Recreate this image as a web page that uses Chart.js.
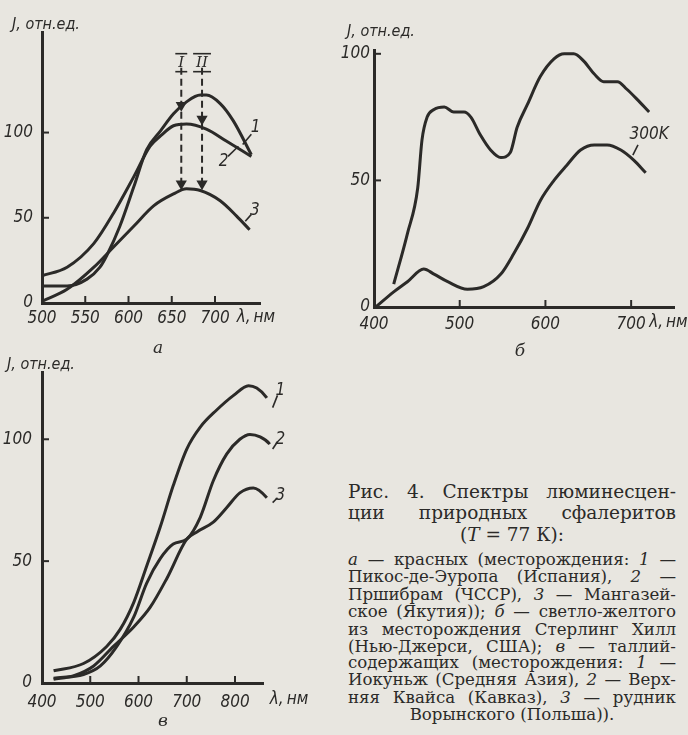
<!DOCTYPE html>
<html lang="ru">
<head>
<meta charset="UTF-8">
<title>Спектры люминесценции природных сфалеритов</title>
<script src="https://cdn.jsdelivr.net/npm/chart.js"></script>
<style>
    body { margin: 0; width: 688px; height: 735px; overflow: hidden; position: relative; background: #e8e6e0; }
    canvas { position: absolute; }
    .letter { position: absolute; font: italic 17px 'DejaVu Serif', serif; color: #2d2c2a; transform: translate(-50%, -50%); }
    .cap { position: absolute; left: 348px; width: 328px; font-family: 'DejaVu Serif', serif; color: #2b2a28; white-space: nowrap; }
    .t { font-size: 18.5px; line-height: 20px; }
    .b { font-size: 16.6px; line-height: 18px; }
    .j { display: flex; justify-content: space-between; }
    .c { text-align: center; }
</style>
</head>
<body>
<canvas id="chartA" width="335" height="345" style="left:0;top:0"></canvas>
<canvas id="chartB" width="353" height="345" style="left:335px;top:0"></canvas>
<canvas id="chartC" width="335" height="390" style="left:0;top:345px"></canvas>

<div class="letter" style="left:158px;top:347px">а</div>
<div class="letter" style="left:520px;top:350px">б</div>
<div class="letter" style="left:163px;top:720px">в</div>

<div class="cap t j" style="top:482px">Рис. 4. Спектры люминесцен-</div>
<div class="cap t j" style="top:503px">ции природных сфалеритов</div>
<div class="cap t c" style="top:525px">(<i>T</i> = 77 К):</div>
<div class="cap b j" style="top:551px"><i>а</i> — красных (месторождения: <i>1</i> —</div>
<div class="cap b j" style="top:568px">Пикос-де-Эуропа (Испания), <i>2</i> —</div>
<div class="cap b j" style="top:586px">Пршибрам (ЧССР), <i>3</i> — Мангазей-</div>
<div class="cap b j" style="top:603px">ское (Якутия)); <i>б</i> — светло-желтого</div>
<div class="cap b j" style="top:621px">из месторождения Стерлинг Хилл</div>
<div class="cap b j" style="top:638px">(Нью-Джерси, США); <i>в</i> — таллий-</div>
<div class="cap b j" style="top:654px">содержащих (месторождения: <i>1</i> —</div>
<div class="cap b j" style="top:671px">Иокуньж (Средняя Азия), <i>2</i> — Верх-</div>
<div class="cap b j" style="top:689px">няя Квайса (Кавказ), <i>3</i> — рудник</div>
<div class="cap b c" style="top:706px">Ворынского (Польша)).</div>

<script>
    // а — красные сфалериты (1, 2, 3)
    const a1X = [500, 529, 552, 567, 575, 590, 606, 621, 637, 652, 667, 683, 690, 706, 721, 742];
    const a1Y = [10, 10, 14, 21, 28, 45, 68, 90, 101, 111, 118, 122, 122, 117, 107, 87];
    const a2X = [500, 529, 560, 583, 606, 625, 637, 652, 667, 690, 713, 742];
    const a2Y = [16, 21, 35, 53, 74, 92, 98, 104, 105, 102, 95, 86];
    const a3X = [500, 529, 560, 583, 606, 629, 652, 667, 683, 706, 725, 740];
    const a3Y = [1, 8, 21, 33, 45, 57, 64, 67, 66, 60, 51, 43];
    // стрелки I и II: положение и уровни (начало, наконечники)
    const arrowX = [661, 685];
    const arrowI = [138, 116, 70];
    const arrowII = [138, 108, 70];

    // б — светло-желтый сфалерит, 77 К и 300 К
    const b77X = [423, 439, 451, 456, 462, 470, 482, 493, 505, 513, 524, 536, 548, 559, 567, 579, 594, 610, 622, 633, 645, 657, 668, 684, 695, 707, 721];
    const b77Y = [9, 29, 47, 66, 75, 78, 79, 77, 77, 75, 68, 62, 59, 61, 71, 80, 91, 98, 100, 100, 97, 92, 89, 89, 86, 82, 77];
    const b300X = [402, 423, 439, 458, 470, 486, 509, 528, 548, 563, 579, 594, 610, 625, 641, 657, 672, 688, 703, 717];
    const b300Y = [0, 6, 10, 15, 13, 10, 7, 8, 13, 21, 31, 42, 50, 56, 62, 64, 64, 62, 58, 53];

    // в — таллийсодержащие сфалериты (1, 2, 3)
    const c1X = [424, 486, 534, 562, 590, 617, 645, 672, 700, 728, 762, 797, 828, 845, 866, 886];
    const c1Y = [5, 8, 15, 22, 33, 48, 64, 81, 96, 105, 112, 118, 122, 121, 117, 110];
    const c2X = [424, 486, 521, 555, 590, 617, 645, 672, 700, 728, 755, 783, 810, 831, 852, 872, 886];
    const c2Y = [2, 3.5, 7, 15, 27, 41, 51, 57, 59, 68, 83, 94, 100, 102, 101, 98, 93];
    const c3X = [424, 466, 507, 548, 590, 624, 659, 700, 721, 755, 783, 810, 838, 866, 886];
    const c3Y = [1.5, 3, 7, 15, 23, 31, 43, 59, 62, 66, 72, 78, 80, 76, 70];

    // деления осей
    const ticksAx = [500, 550, 600, 650, 700];
    const ticksBx = [400, 500, 600, 700];
    const ticksCx = [400, 500, 600, 700, 800];
    const ticksY = [0, 50, 100];

    const ink = '#2b2a28';
    const narrow = "'Liberation Sans Narrow', 'DejaVu Sans Condensed', 'DejaVu Sans', sans-serif";
    const tickFont = { family: narrow, size: 17, style: 'italic' };
    const noteFont = "italic 17px " + narrow;

    // распределение слов по строке подписи
    document.querySelectorAll('.j').forEach(el => {
        el.innerHTML = el.innerHTML.trim().split(/\s+/).map(w => '<span>' + w + '</span>').join('');
    });

    function pts(xs, ys) {
        return xs.map((x, i) => ({ x, y: ys[i] }));
    }

    function curve(xs, ys) {
        return {
            data: pts(xs, ys), borderColor: ink, borderWidth: 3, pointRadius: 0,
            cubicInterpolationMode: 'monotone', clip: false, fill: false
        };
    }

    function arrow(x, levels) {
        return {
            data: levels.map(y => ({ x, y })), borderColor: ink, borderWidth: 2, borderDash: [7, 4],
            tension: 0, pointStyle: 'triangle', pointRotation: 180,
            pointRadius: levels.map((v, i) => i ? 4.5 : 0),
            pointBackgroundColor: ink, pointBorderColor: ink, clip: false
        };
    }

    // внутренние засечки, подписи осей и номера кривых
    const sketch = {
        id: 'sketch',
        afterDraw(chart) {
            const o = chart.options.plugins.sketch;
            const { ctx, chartArea: a, scales: { x, y } } = chart;
            ctx.save();
            ctx.strokeStyle = ink;
            ctx.fillStyle = ink;
            ctx.lineWidth = 2;
            const line = (x1, y1, x2, y2) => { ctx.beginPath(); ctx.moveTo(x1, y1); ctx.lineTo(x2, y2); ctx.stroke(); };
            x.ticks.forEach(t => {
                if (t.value === x.min) return;
                const px = x.getPixelForValue(t.value);
                line(px, a.bottom, px, a.bottom - 7);
            });
            y.ticks.forEach(t => {
                if (t.value === y.min) return;
                const py = y.getPixelForValue(t.value);
                line(a.left, py, a.left + 7, py);
            });
            ctx.font = "italic 16px " + narrow;
            ctx.textBaseline = 'middle';
            ctx.textAlign = 'left';
            ctx.fillText('J, отн.ед.', a.left + o.yTitle[0], a.top + o.yTitle[1]);
            ctx.font = noteFont;
            ctx.fillText('λ,\u2009нм', x.getPixelForValue(o.xTitle), a.bottom + o.xTitleDy);
            ctx.textAlign = 'center';
            (o.notes || []).forEach(n => {
                const px = x.getPixelForValue(n.x), py = y.getPixelForValue(n.y);
                ctx.font = n.font || noteFont;
                ctx.fillText(n.text, px, py);
                if (n.lead) {
                    ctx.lineWidth = 1.6;
                    line(x.getPixelForValue(n.lead[0]), y.getPixelForValue(n.lead[1]),
                         x.getPixelForValue(n.lead[2]), y.getPixelForValue(n.lead[3]));
                }
                if (n.bars) {
                    const w = ctx.measureText(n.text).width / 2 + 3;
                    ctx.lineWidth = 1.6;
                    line(px - w, py - 9, px + w, py - 9);
                    line(px - w, py + 9, px + w, py + 9);
                }
            });
            ctx.restore();
        }
    };

    function plot(id, box, xAxis, yMax, datasets, extra) {
        new Chart(document.getElementById(id), {
            type: 'line',
            data: { datasets },
            options: {
                responsive: false,
                animation: false,
                devicePixelRatio: 1,
                layout: { padding: { top: box.top, right: box.right, left: 0, bottom: 0 } },
                plugins: { legend: { display: false }, tooltip: { enabled: false }, sketch: extra },
                scales: {
                    x: {
                        type: 'linear', min: xAxis.min, max: xAxis.max,
                        afterBuildTicks: s => { s.ticks = xAxis.ticks.map(value => ({ value })); },
                        afterFit: s => { s.height = box.bottom; },
                        grid: { display: false, drawTicks: false },
                        border: { color: ink, width: 3 },
                        ticks: { color: ink, font: tickFont, padding: box.xPad, maxRotation: 0, autoSkip: false }
                    },
                    y: {
                        min: 0, max: yMax,
                        afterBuildTicks: s => { s.ticks = ticksY.map(value => ({ value })); },
                        afterFit: s => { s.width = box.left; },
                        grid: { display: false, drawTicks: false },
                        border: { color: ink, width: 3 },
                        ticks: { color: ink, font: tickFont, padding: box.yPad }
                    }
                }
            },
            plugins: [sketch]
        });
    }

    const romanFont = "italic 15px 'DejaVu Serif', serif";

    plot('chartA', { left: 42, top: 32, right: 75, bottom: 42, xPad: 5, yPad: 9 },
        { min: 500, max: 752, ticks: ticksAx }, 159,
        [curve(a1X, a1Y), curve(a2X, a2Y), curve(a3X, a3Y),
         arrow(arrowX[0], arrowI), arrow(arrowX[1], arrowII)],
        {
            yTitle: [-30, -7], xTitle: 725, xTitleDy: 15,
            notes: [
                { text: 'I', x: arrowX[0], y: 141, font: romanFont, bars: true },
                { text: 'II', x: arrowX[1], y: 141, font: romanFont, bars: true },
                { text: '1', x: 747, y: 103, lead: [732, 93, 742, 99] },
                { text: '2', x: 710, y: 83, lead: [715, 86, 727, 92] },
                { text: '3', x: 746, y: 54, lead: [735, 48, 742, 52] }
            ]
        });

    plot('chartB', { left: 39, top: 50, right: 14, bottom: 38, xPad: 7, yPad: 4 },
        { min: 400, max: 750, ticks: ticksBx }, 101.5,
        [curve(b77X, b77Y), curve(b300X, b300Y)],
        {
            yTitle: [-27, -18], xTitle: 721, xTitleDy: 16,
            notes: [
                { text: '300K', x: 721, y: 68, lead: [702, 60, 708, 64] }
            ]
        });

    plot('chartC', { left: 42, top: 27, right: 72, bottom: 52, xPad: 9, yPad: 10 },
        { min: 400, max: 858, ticks: ticksCx }, 127.6,
        [curve(c1X, c1Y), curve(c2X, c2Y), curve(c3X, c3Y)],
        {
            yTitle: [-35, -7], xTitle: 872, xTitleDy: 17,
            notes: [
                { text: '1', x: 894, y: 120, lead: [878, 113, 888, 118] },
                { text: '2', x: 894, y: 100, lead: [878, 96, 888, 99] },
                { text: '3', x: 894, y: 77, lead: [878, 74, 888, 76] }
            ]
        });
</script>
</body>
</html>
